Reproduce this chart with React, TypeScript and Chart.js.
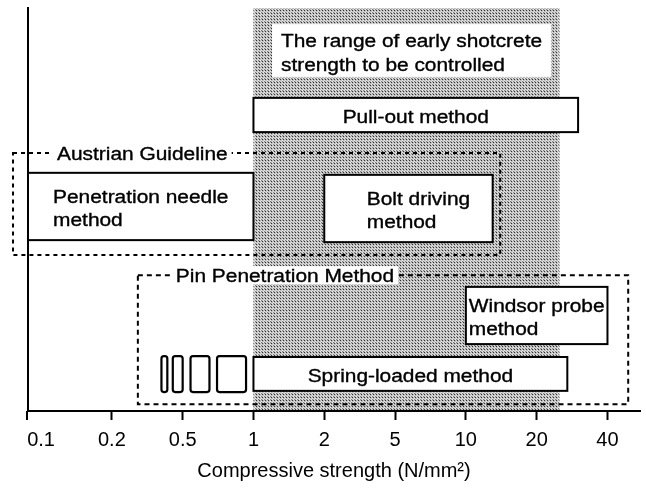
import React, { useEffect, useRef } from "react";
import { Chart, registerables } from "chart.js";

Chart.register(...registerables);

// ---- data ----
const tickValues = [0.1, 0.2, 0.5, 1, 2, 5, 10, 20, 40];
const tickLabels = ["0.1", "0.2", "0.5", "1", "2", "5", "10", "20", "40"];
const axisRange = [0.088, 55];
const axisTitle = "Compressive strength (N/mm²)";

// shaded range of early shotcrete strength to be controlled (N/mm²)
const controlledRange = [1, 25];
const controlledLabel = ["The range of early shotcrete", "strength to be controlled"];
const controlledLabelRange = [1.2, 23];
const controlledLabelRows = [82.9, 96.0];

// test methods: strength range (N/mm²) and row (y units)
const methodNames = [
  "Pull-out method",
  "Penetration needle\nmethod",
  "Bolt driving\nmethod",
  "Windsor probe\nmethod",
  "Spring-loaded method",
];
const methodFrom = [1, 0.088, 2, 10, 1];
const methodTo = [30, 1, 13, 40, 27];
const methodRowLow = [69.2, 42.4, 41.9, 16.6, 5.0];
const methodRowHigh = [77.7, 59.1, 58.6, 30.8, 13.4];

// groupings (dashed frames)
const groupNames = ["Austrian Guideline", "Pin Penetration Method"];
const groupFrom = [0.076, 0.28];
const groupTo = [14, 49];
const groupRowLow = [38.7, 1.7];
const groupRowHigh = [64.0, 33.7];

// spring-loaded small steps
const springStepFrom = [0.38, 0.44, 0.54, 0.7];
const springStepTo = [0.41, 0.5, 0.65, 0.93];
const springStepRow = [4.7, 13.6];

// ---- styles ----
const FONT = '"Liberation Sans", Arial, sans-serif';
const TEXT_SIZE = 18;
const STRETCH = 1.16;
const LINE_GAP = 23.5;
const TEXT_NUDGE: Record<string, number> = { "Bolt driving\nmethod": 10 };
const LABEL_INDENT = [44, 38];
const DASHES = [
  [4, 4],
  [5, 4],
];

// ---- helpers ----
function toPos(v: number): number {
  const n = tickValues.length;
  if (v <= tickValues[0]) return Math.log(v / tickValues[0]) / Math.log(tickValues[1] / tickValues[0]);
  if (v >= tickValues[n - 1])
    return n - 1 + Math.log(v / tickValues[n - 1]) / Math.log(tickValues[n - 1] / tickValues[n - 2]);
  for (let i = 0; i < n - 1; i++) {
    if (v <= tickValues[i + 1])
      return i + Math.log(v / tickValues[i]) / Math.log(tickValues[i + 1] / tickValues[i]);
  }
  return n - 1;
}

function makeStipple(): CanvasPattern | string {
  const c = document.createElement("canvas");
  c.width = 3;
  c.height = 3;
  const g = c.getContext("2d");
  if (!g) return "#b0b0b0";
  g.fillStyle = "#bebebe";
  g.fillRect(0, 0, 3, 3);
  g.fillStyle = "#e8e8e8";
  g.fillRect(2, 0, 1, 1);
  g.fillRect(0, 2, 1, 1);
  g.fillStyle = "#808080";
  g.fillRect(0, 0, 1, 1);
  g.fillStyle = "#333333";
  g.fillRect(1, 1, 1, 1);
  const p = g.createPattern(c, "repeat");
  return p || "#b0b0b0";
}

function sText(ctx: CanvasRenderingContext2D, text: string, x: number, y: number, align: CanvasTextAlign) {
  ctx.save();
  ctx.translate(x, y);
  ctx.scale(STRETCH, 1);
  ctx.textAlign = align;
  ctx.textBaseline = "alphabetic";
  ctx.fillStyle = "#000";
  ctx.strokeStyle = "#000";
  ctx.lineWidth = 0.35;
  ctx.fillText(text, 0, 0);
  ctx.strokeText(text, 0, 0);
  ctx.restore();
}

function sWidth(ctx: CanvasRenderingContext2D, text: string) {
  return ctx.measureText(text).width * STRETCH;
}

function drawBlock(ctx: CanvasRenderingContext2D, lines: string[], cx: number, cy: number) {
  const n = lines.length;
  const widths = lines.map((l) => sWidth(ctx, l));
  const maxW = Math.max(...widths);
  const b0 = cy - ((n - 1) * LINE_GAP - 13) / 2 + 1.75;
  lines.forEach((l, i) => {
    if (n === 1) sText(ctx, l, cx, b0, "center");
    else sText(ctx, l, cx - maxW / 2, b0 + i * LINE_GAP, "left");
  });
}

function roundRect(ctx: CanvasRenderingContext2D, x: number, y: number, w: number, h: number, r: number) {
  ctx.beginPath();
  ctx.moveTo(x + r, y);
  ctx.lineTo(x + w - r, y);
  ctx.quadraticCurveTo(x + w, y, x + w, y + r);
  ctx.lineTo(x + w, y + h - r);
  ctx.quadraticCurveTo(x + w, y + h, x + w - r, y + h);
  ctx.lineTo(x + r, y + h);
  ctx.quadraticCurveTo(x, y + h, x, y + h - r);
  ctx.lineTo(x, y + r);
  ctx.quadraticCurveTo(x, y, x + r, y);
  ctx.closePath();
}

const schematicPlugin = {
  id: "schematic",
  beforeDatasetsDraw(chart: any) {
    const { ctx, scales } = chart;
    const x = scales.x;
    const y = scales.y;
    const px = (v: number) => x.getPixelForValue(toPos(v));
    const py = (v: number) => y.getPixelForValue(v);
    ctx.save();
    ctx.font = `${TEXT_SIZE}px ${FONT}`;

    // shaded controlled range
    if (!chart.$stipple) chart.$stipple = makeStipple();
    ctx.fillStyle = chart.$stipple;
    const sx0 = px(controlledRange[0]);
    const sx1 = px(controlledRange[1]);
    ctx.fillRect(sx0, py(y.max), sx1 - sx0, py(y.min) - py(y.max));

    // controlled range label
    {
      const x0 = px(controlledLabelRange[0]);
      const x1 = px(controlledLabelRange[1]);
      const yTop = py(controlledLabelRows[1]);
      const yBot = py(controlledLabelRows[0]);
      ctx.fillStyle = "#fff";
      ctx.fillRect(x0, yTop, x1 - x0, yBot - yTop);
      drawBlock(ctx, controlledLabel, (x0 + x1) / 2, (yTop + yBot) / 2);
    }

    // dashed group frames
    groupNames.forEach((_, i) => {
      const x0 = px(groupFrom[i]);
      const x1 = px(groupTo[i]);
      const yTop = py(groupRowHigh[i]);
      const yBot = py(groupRowLow[i]);
      ctx.save();
      ctx.strokeStyle = "#000";
      ctx.lineWidth = 2;
      ctx.setLineDash(DASHES[i]);
      ctx.strokeRect(x0, yTop, x1 - x0, yBot - yTop);
      ctx.restore();
    });

    // method boxes
    methodNames.forEach((name, i) => {
      const x0 = px(methodFrom[i]);
      const x1 = px(methodTo[i]);
      const yTop = py(methodRowHigh[i]);
      const yBot = py(methodRowLow[i]);
      ctx.fillStyle = "#fff";
      ctx.fillRect(x0, yTop, x1 - x0, yBot - yTop);
      ctx.strokeStyle = "#000";
      ctx.lineWidth = 2;
      ctx.strokeRect(x0, yTop, x1 - x0, yBot - yTop);
      drawBlock(ctx, name.split("\n"), (x0 + x1) / 2 + (TEXT_NUDGE[name] || 0), (yTop + yBot) / 2);
    });

    // spring-loaded small steps
    springStepFrom.forEach((f, i) => {
      const x0 = px(f);
      const x1 = px(springStepTo[i]);
      const yTop = py(springStepRow[1]);
      const yBot = py(springStepRow[0]);
      roundRect(ctx, x0, yTop, x1 - x0, yBot - yTop, 2.5);
      ctx.fillStyle = "#fff";
      ctx.fill();
      ctx.strokeStyle = "#000";
      ctx.lineWidth = 2.2;
      ctx.stroke();
    });

    // group labels on frame tops
    groupNames.forEach((name, i) => {
      const x0 = px(groupFrom[i]);
      const yTop = py(groupRowHigh[i]);
      const tx = x0 + LABEL_INDENT[i];
      const w = sWidth(ctx, name);
      ctx.fillStyle = "#fff";
      ctx.fillRect(tx - 4, yTop - 9, w + 8, 18);
      sText(ctx, name, tx, yTop + 6.5, "left");
    });

    ctx.restore();
  },
  afterDraw(chart: any) {
    const { ctx, chartArea } = chart;
    ctx.save();
    ctx.strokeStyle = "#000";
    ctx.lineWidth = 2;
    ctx.beginPath();
    ctx.moveTo(chartArea.left - 1, chartArea.bottom);
    ctx.lineTo(chartArea.left - 1, chartArea.bottom + 9);
    ctx.stroke();
    ctx.restore();
  },
};

export default function App() {
  const canvasRef = useRef<HTMLCanvasElement | null>(null);

  useEffect(() => {
    document.body.style.margin = "0";
    const canvas = canvasRef.current;
    if (!canvas) return;
    const chart = new Chart(canvas, {
      type: "scatter",
      data: { datasets: [] },
      options: {
        animation: false,
        responsive: false,
        devicePixelRatio: 1,
        layout: { padding: { top: 8, right: 6, left: 0, bottom: 0 } },
        plugins: { legend: { display: false }, tooltip: { enabled: false } },
        scales: {
          x: {
            type: "linear",
            min: toPos(axisRange[0]),
            max: toPos(axisRange[1]),
            afterBuildTicks: (s: any) => {
              s.ticks = tickValues.map((_, i) => ({ value: i }));
            },
            afterFit: (s: any) => {
              s.height = 77;
            },
            grid: {
              drawOnChartArea: false,
              drawTicks: true,
              tickLength: 9,
              tickWidth: 2,
              tickColor: (c: any) => (c.index === 0 ? "rgba(0,0,0,0)" : "#000"),
            },
            border: { display: true, color: "#000", width: 2, z: 1 },
            ticks: {
              autoSkip: false,
              maxRotation: 0,
              padding: 8,
              color: "#000",
              font: { family: FONT, size: 20 },
              callback: (v: any) => tickLabels[Math.round(Number(v))] ?? "",
            },
            title: {
              display: true,
              text: axisTitle,
              color: "#000",
              font: { family: FONT, size: 20 },
              padding: { top: 0, bottom: 5 },
            },
          },
          y: {
            type: "linear",
            min: 0,
            max: 100,
            afterFit: (s: any) => {
              s.width = 28;
            },
            grid: { display: false },
            border: { display: true, color: "#000", width: 2, z: 1 },
            ticks: { display: false },
          },
        },
      } as any,
      plugins: [schematicPlugin as any],
    });
    return () => chart.destroy();
  }, []);

  return (
    <div style={{ width: 646, height: 488, background: "#fff" }}>
      <canvas ref={canvasRef} width={646} height={488} style={{ display: "block" }} />
    </div>
  );
}
